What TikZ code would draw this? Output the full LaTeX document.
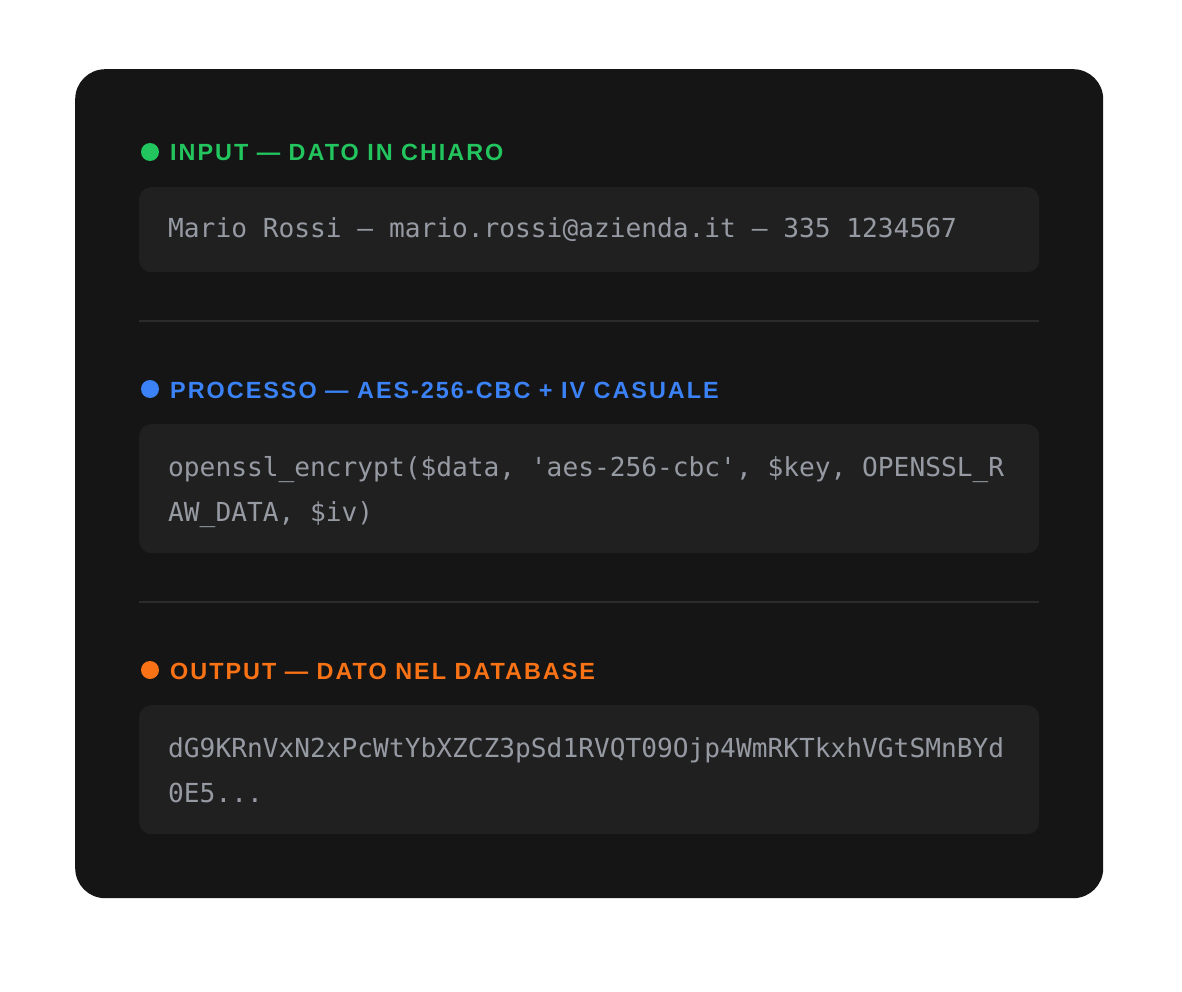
\documentclass[tikz,border=0pt]{standalone}
\usepackage{fontspec}
\setmainfont{Liberation Sans}
\newfontfamily\hdrfont{Liberation Sans}[LetterSpace=8.5]
\newfontfamily\codefont{DejaVu Sans Mono}
\definecolor{cardbg}{HTML}{151515}
\definecolor{boxbg}{HTML}{202020}
\definecolor{divcol}{HTML}{2B2B2B}
\definecolor{codecol}{HTML}{969AA3}
\definecolor{cgreen}{HTML}{22C55E}
\definecolor{cblue}{HTML}{3B82F6}
\definecolor{corange}{HTML}{F97316}
\tikzset{
  codebox/.style={fill=boxbg, rounded corners=12pt, minimum width=900pt, anchor=north west, inner sep=0pt},
  codetext/.style={anchor=base west, inner sep=0pt, text=codecol, font=\codefont\fontsize{26.2}{26.2}\selectfont},
  hdr/.style={anchor=base west, inner sep=0pt, font=\hdrfont\bfseries\fontsize{23.4}{23.4}\selectfont},
  dot/.style={circle, inner sep=0pt, minimum size=18pt},
  divider/.style={draw=divcol, line width=1.5pt}
}
\begin{document}
\begin{tikzpicture}[x=1pt,y=-1pt]
\path[use as bounding box, fill=white] (0,0) rectangle (1182,992);
\node[fill=cardbg, rounded corners=30pt, minimum width=1028pt, minimum height=829pt, anchor=north west, inner sep=0pt] (card) at (75,69) {};
% section 1
\node[dot, fill=cgreen] (dot1) at (150,152) {};
\node[hdr, text=cgreen] (h1) at (170,161) {INPUT — DATO IN CHIARO};
\node[codebox, minimum height=85pt] (box1) at (139,187) {};
\node[codetext] (t1) at (168,238) {Mario Rossi — mario.rossi@azienda.it — 335 1234567};
\coordinate (dv1a) at (139,321);
\coordinate (dv1b) at (1039,321);
\draw[divider] (dv1a) -- (dv1b);
% section 2
\node[dot, fill=cblue] (dot2) at (150,389) {};
\node[hdr, text=cblue] (h2) at (170,398) {PROCESSO — AES-256-CBC + IV CASUALE};
\node[codebox, minimum height=129pt] (box2) at (139,424) {};
\node[codetext] (t2a) at (168,476) {openssl\_encrypt(\$data, \textquotesingle aes-256-cbc\textquotesingle, \$key, OPENSSL\_R};
\node[codetext] (t2b) at (168,521) {AW\_DATA, \$iv)};
\coordinate (dv2a) at (139,602);
\coordinate (dv2b) at (1039,602);
\draw[divider] (dv2a) -- (dv2b);
% section 3
\node[dot, fill=corange] (dot3) at (150,670) {};
\node[hdr, text=corange] (h3) at (170,679) {OUTPUT — DATO NEL DATABASE};
\node[codebox, minimum height=129pt] (box3) at (139,705) {};
\node[codetext] (t3a) at (168,757) {dG9KRnVxN2xPcWtYbXZCZ3pSd1RVQT09Ojp4WmRKTkxhVGtSMnBYd};
\node[codetext] (t3b) at (168,802) {0E5...};
\end{tikzpicture}
\end{document}
